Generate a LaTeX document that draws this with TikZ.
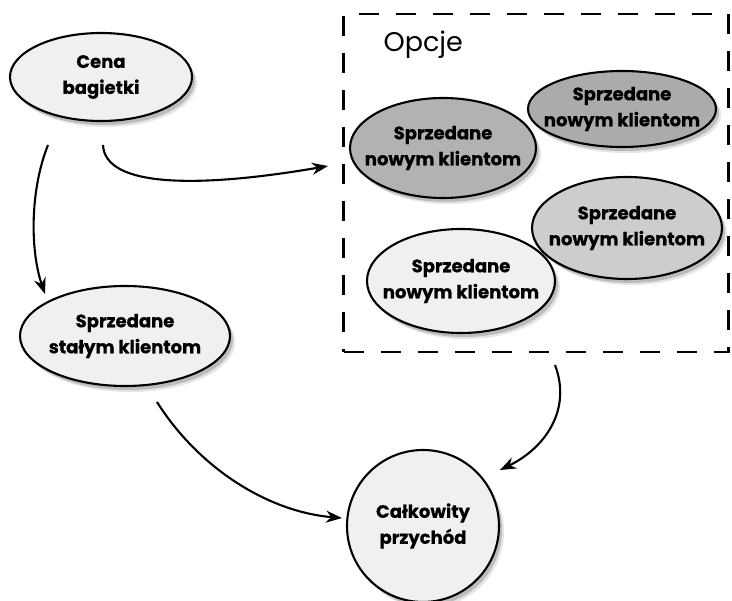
\documentclass[tikz,border=0pt]{standalone}
\usepackage{fontspec}
\setmainfont{Poppins}[BoldFont={Poppins Bold}, BoldFeatures={FakeBold=0.6}]
\usetikzlibrary{shapes.geometric,arrows.meta,shadows}
\definecolor{lightfill}{HTML}{F0F0F0}
\definecolor{midfill}{HTML}{CDCDCD}
\definecolor{darkfill}{HTML}{ABABAB}
\definecolor{darkfillB}{HTML}{B2B2B2}
\tikzset{
  shad/.style={
    general shadow={shadow xshift=5pt, shadow yshift=-6pt, fill=black, opacity=0.10},
    general shadow={shadow xshift=3pt, shadow yshift=-4pt, fill=black, opacity=0.18}},
  bubble/.style={ellipse, draw=black, line width=2.1pt, inner sep=0pt, shad},
  txt/.style={align=center, font=\bfseries\fontsize{18}{26}\selectfont},
  conn/.style={line width=2.1pt, -{Stealth[length=16pt,width=12pt]}},
  dashbox/.style={draw, line width=2.1pt, dash pattern=on 20pt off 17pt, inner sep=0pt}
}
\begin{document}
\begin{tikzpicture}[x=1pt,y=-1pt]
\useasboundingbox (0,0) rectangle (732,601);
% dashed option box
\node[dashbox, minimum width=385pt, minimum height=338pt] (opcje) at (536,183) {};
\node[font=\fontsize{27}{30}\selectfont, anchor=west] (opcjelbl) at (380,45) {Opcje};
% nodes
\node[bubble, fill=lightfill, minimum width=182pt, minimum height=88pt,
  label={[txt]center:{Cena\\bagietki}}] (cena) at (101,77) {};
\node[bubble, fill=lightfill, minimum width=210pt, minimum height=100pt,
  label={[txt]center:{Sprzedane\\stałym klientom}}] (stale) at (125,336) {};
\node[circle, draw=black, line width=2.1pt, fill=lightfill, minimum size=152pt, inner sep=0pt, shad,
  label={[txt]center:{Całkowity\\przychód}}] (total) at (423,526) {};
\node[bubble, fill=darkfillB, minimum width=186pt, minimum height=100pt,
  label={[txt]center:{Sprzedane\\nowym klientom}}] (nowyB) at (443,148) {};
\node[bubble, fill=darkfill, minimum width=188pt, minimum height=76pt,
  label={[txt]center:{Sprzedane\\nowym klientom}}] (nowyA) at (622,109) {};
\node[bubble, fill=midfill, minimum width=190pt, minimum height=102pt,
  label={[txt]center:{Sprzedane\\nowym klientom}}] (nowyC) at (627,228) {};
\node[bubble, fill=lightfill, minimum width=188pt, minimum height=104pt,
  label={[txt]center:{Sprzedane\\nowym klientom}}] (nowyD) at (461,281) {};
% connectors
\coordinate (c1) at (48,145);
\coordinate (c2) at (103,145);
\coordinate (c3) at (157,402);
\coordinate (c4) at (555,365);
\coordinate (e1) at (45,294);
\coordinate (e2) at (328,166);
\coordinate (e3) at (342,518);
\coordinate (e4) at (500,470);
\draw[conn] (c1) .. controls (30,190) and (30,250) .. (e1);
\draw[conn] (c2) .. controls (105,188) and (200,188) .. (e2);
\draw[conn] (c3) .. controls (200,470) and (270,512) .. (e3);
\draw[conn] (c4) .. controls (572,410) and (545,448) .. (e4);
\end{tikzpicture}
\end{document}
